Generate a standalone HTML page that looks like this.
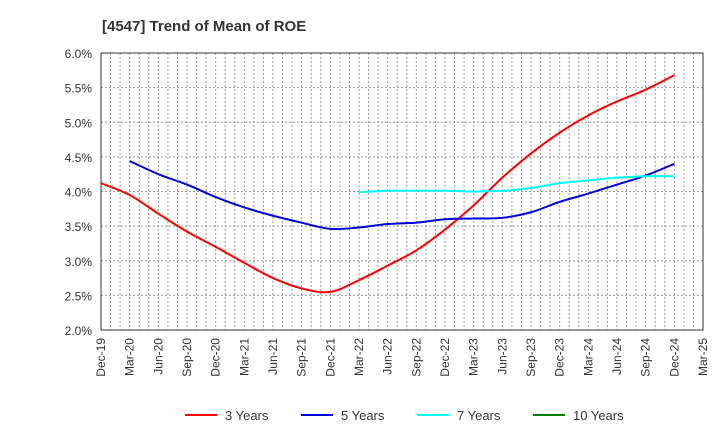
<!DOCTYPE html>
<html><head><meta charset="utf-8"><style>
body{margin:0;background:#fff;font-family:"Liberation Sans",sans-serif}
</style></head><body>
<svg id="chart" width="720" height="440" xmlns="http://www.w3.org/2000/svg" font-family="Liberation Sans, sans-serif">
<text x="102" y="31" font-size="15" font-weight="bold" fill="#333">[4547]  Trend of Mean of ROE</text>
<g id="grid"></g><g id="axes"></g><g id="series"></g><g id="legend"></g>
</svg>
<script>
const xLabels=["Dec-19","Mar-20","Jun-20","Sep-20","Dec-20","Mar-21","Jun-21","Sep-21","Dec-21","Mar-22","Jun-22","Sep-22","Dec-22","Mar-23","Jun-23","Sep-23","Dec-23","Mar-24","Jun-24","Sep-24","Dec-24","Mar-25"];
const yTicks=[2.0,2.5,3.0,3.5,4.0,4.5,5.0,5.5,6.0];
const y3=[4.12,3.95,3.68,3.42,3.2,2.97,2.75,2.6,2.55,2.72,2.93,3.15,3.45,3.8,4.2,4.55,4.85,5.1,5.3,5.47,5.68];
const y5=[null,4.44,4.25,4.1,3.92,3.77,3.65,3.55,3.46,3.48,3.53,3.55,3.6,3.61,3.62,3.7,3.85,3.97,4.1,4.23,4.4];
const y7=[null,null,null,null,null,null,null,null,null,3.99,4.01,4.01,4.01,4.0,4.01,4.05,4.12,4.16,4.2,4.22,4.22];
const y10=[];
const L=101,R=703,T=53,B=330,NS="http://www.w3.org/2000/svg";
const xs=i=>L+(R-L)*i/21, ys=v=>B-(v-2)/4*(B-T);
function mk(p,t,a){const e=document.createElementNS(NS,t);for(const k in a)e.setAttribute(k,a[k]);document.getElementById(p).appendChild(e);return e;}
for(let m=1;m<63;m++){const x=L+(R-L)*m/63;const g=mk('grid','line',{x1:x,x2:x,y1:T,y2:B,stroke:'#999','stroke-dasharray':'2,2','stroke-width':1});

}
yTicks.forEach(v=>{const y=ys(v);const g=mk('grid','line',{x1:L,x2:R,y1:y,y2:y,stroke:'#999','stroke-dasharray':'2,2'});


const t=mk('axes','text',{x:92,y:y+5,'text-anchor':'end','font-size':12,fill:'#333'});t.textContent=v.toFixed(1)+'%';

});
const fr=mk('axes','rect',{x:L,y:T,width:R-L,height:B-T,fill:'none',stroke:'#333'});


xLabels.forEach((s,i)=>{const x=xs(i)+4;const t=mk('axes','text',{x:x,y:338,'text-anchor':'end','font-size':12,fill:'#333',transform:`rotate(-90 ${x} 338)`});t.textContent=s;

});
function path(arr){const p=[];arr.forEach((v,i)=>{if(v!=null)p.push([xs(i),ys(v)]);});if(p.length<2)return '';
let d=`M${p[0][0]},${p[0][1]}`;for(let i=0;i<p.length-1;i++){const a=p[i-1]||p[i],b=p[i],c=p[i+1],e=p[i+2]||c;
d+=` C${b[0]+(c[0]-a[0])/6},${b[1]+(c[1]-a[1])/6} ${c[0]-(e[0]-b[0])/6},${c[1]-(e[1]-b[1])/6} ${c[0]},${c[1]}`;}return d;}
[[y3,'#ff0000','series-3-years'],[y5,'#0000dd','series-5-years'],[y7,'#00ffff','series-7-years'],[y10,'#008000','series-10-years']].forEach(([a,c,n])=>{const d=path(a);if(!d)return;
const e=mk('series','path',{d:d,fill:'none',stroke:c,'stroke-width':2});

});
[['3 Years','#ff0000',185],['5 Years','#0000dd',301],['7 Years','#00ffff',417],['10 Years','#008000',533]].forEach(([s,c,x])=>{
const l=mk('legend','line',{x1:x,x2:x+32,y1:415,y2:415,stroke:c,'stroke-width':2});


const t=mk('legend','text',{x:x+40,y:420,'font-size':13,fill:'#333'});t.textContent=s;

});
</script>
</body></html>
